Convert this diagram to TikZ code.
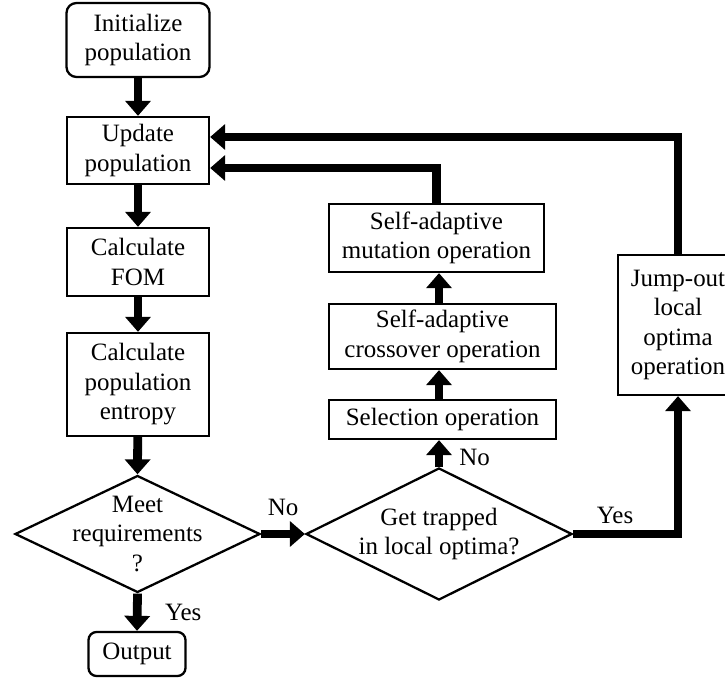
\documentclass[tikz,border=0pt]{standalone}
\usepackage{fontspec}
\setmainfont{Liberation Serif}
\usetikzlibrary{positioning, calc, shapes.geometric, arrows.meta}
\tikzset{box/.style = {rectangle, draw, line width=1.3pt, align=center, inner sep=0pt}}
\tikzset{startbox/.style = {box, rounded corners=0.2cm}}
\tikzset{decision/.style = {diamond, draw, line width=1.3pt, inner sep=0pt}}
\tikzset{flow/.style = {line width=5pt, -{Triangle[length=0.3cm, width=0.5cm]}}}

\begin{document}
\begin{tikzpicture}[font=\fontsize{14.2pt}{16.8pt}\selectfont]
        \useasboundingbox (0,0) rectangle (14.5,-13.58);
        % main column
        \node [startbox, minimum width=2.86cm, minimum height=1.48cm] (init) at (2.76,-0.80) {Initialize\\population};
        \node [box, minimum width=2.84cm, minimum height=1.34cm] (update) at (2.76,-3.01) {Update\\population};
        \node [box, minimum width=2.84cm, minimum height=1.36cm] (fom) at (2.76,-5.24) {Calculate\\FOM};
        \node [box, minimum width=2.84cm, minimum height=2.06cm] (entropy) at (2.76,-7.69) {Calculate\\population\\entropy};
        \node [decision, minimum width=4.9cm, minimum height=2.34cm] (meet) at (2.75,-10.68) {};
        \node [align=center] (meettext) at (meet) {Meet\\requirements\\?};
        \node [startbox, rounded corners=0.16cm, minimum width=1.94cm, minimum height=0.88cm] (output) at (2.74,-13.08) {Output};
        % operations
        \node [decision, minimum width=5.32cm, minimum height=2.64cm] (trap) at (8.78,-10.68) {};
        \node [align=center] (traptext) at (trap) {Get trapped\\in local optima?};
        \node [box, minimum width=4.54cm, minimum height=0.78cm] (select) at (8.85,-8.39) {Selection operation};
        \node [box, minimum width=4.54cm, minimum height=1.30cm] (cross) at (8.85,-6.73) {Self-adaptive\\crossover operation};
        \node [box, minimum width=4.30cm, minimum height=1.36cm] (mutate) at (8.73,-4.76) {Self-adaptive\\mutation operation};
        \node [box, minimum width=2.40cm, minimum height=2.80cm] (jump) at (13.56,-6.50) {Jump-out\\local\\optima\\operation};
        % arrows
        \draw [flow] (init) -- (update);
        \draw [flow] (update) -- (fom);
        \draw [flow] (fom) -- (entropy);
        \draw [flow] (entropy) -- (meet.north);
        \draw [flow] (meet.south) -- node [right=0.35cm] {Yes} (output.north);
        \draw [flow] (meet.east) -- node [above=0.16cm] {No} (trap.west);
        \draw [flow] (trap.north) -- node [pos=0.35, right=0.2cm] {No} (trap.north |- select.south);
        \draw [flow] (select.north -| trap.north) -- (trap.north |- cross.south);
        \draw [flow] (cross.north -| trap.north) -- (trap.north |- mutate.south);
        \draw [flow] (mutate.north) |- ($(update.east)+(0,-0.35)$);
        \draw [flow] (trap.east) -- node [pos=0.4, above] {Yes} (trap.east -| jump.south) -- (jump.south);
        \draw [flow] (jump.north) |- ($(update.east)+(0,0.27)$);
    \end{tikzpicture}
\end{document}
